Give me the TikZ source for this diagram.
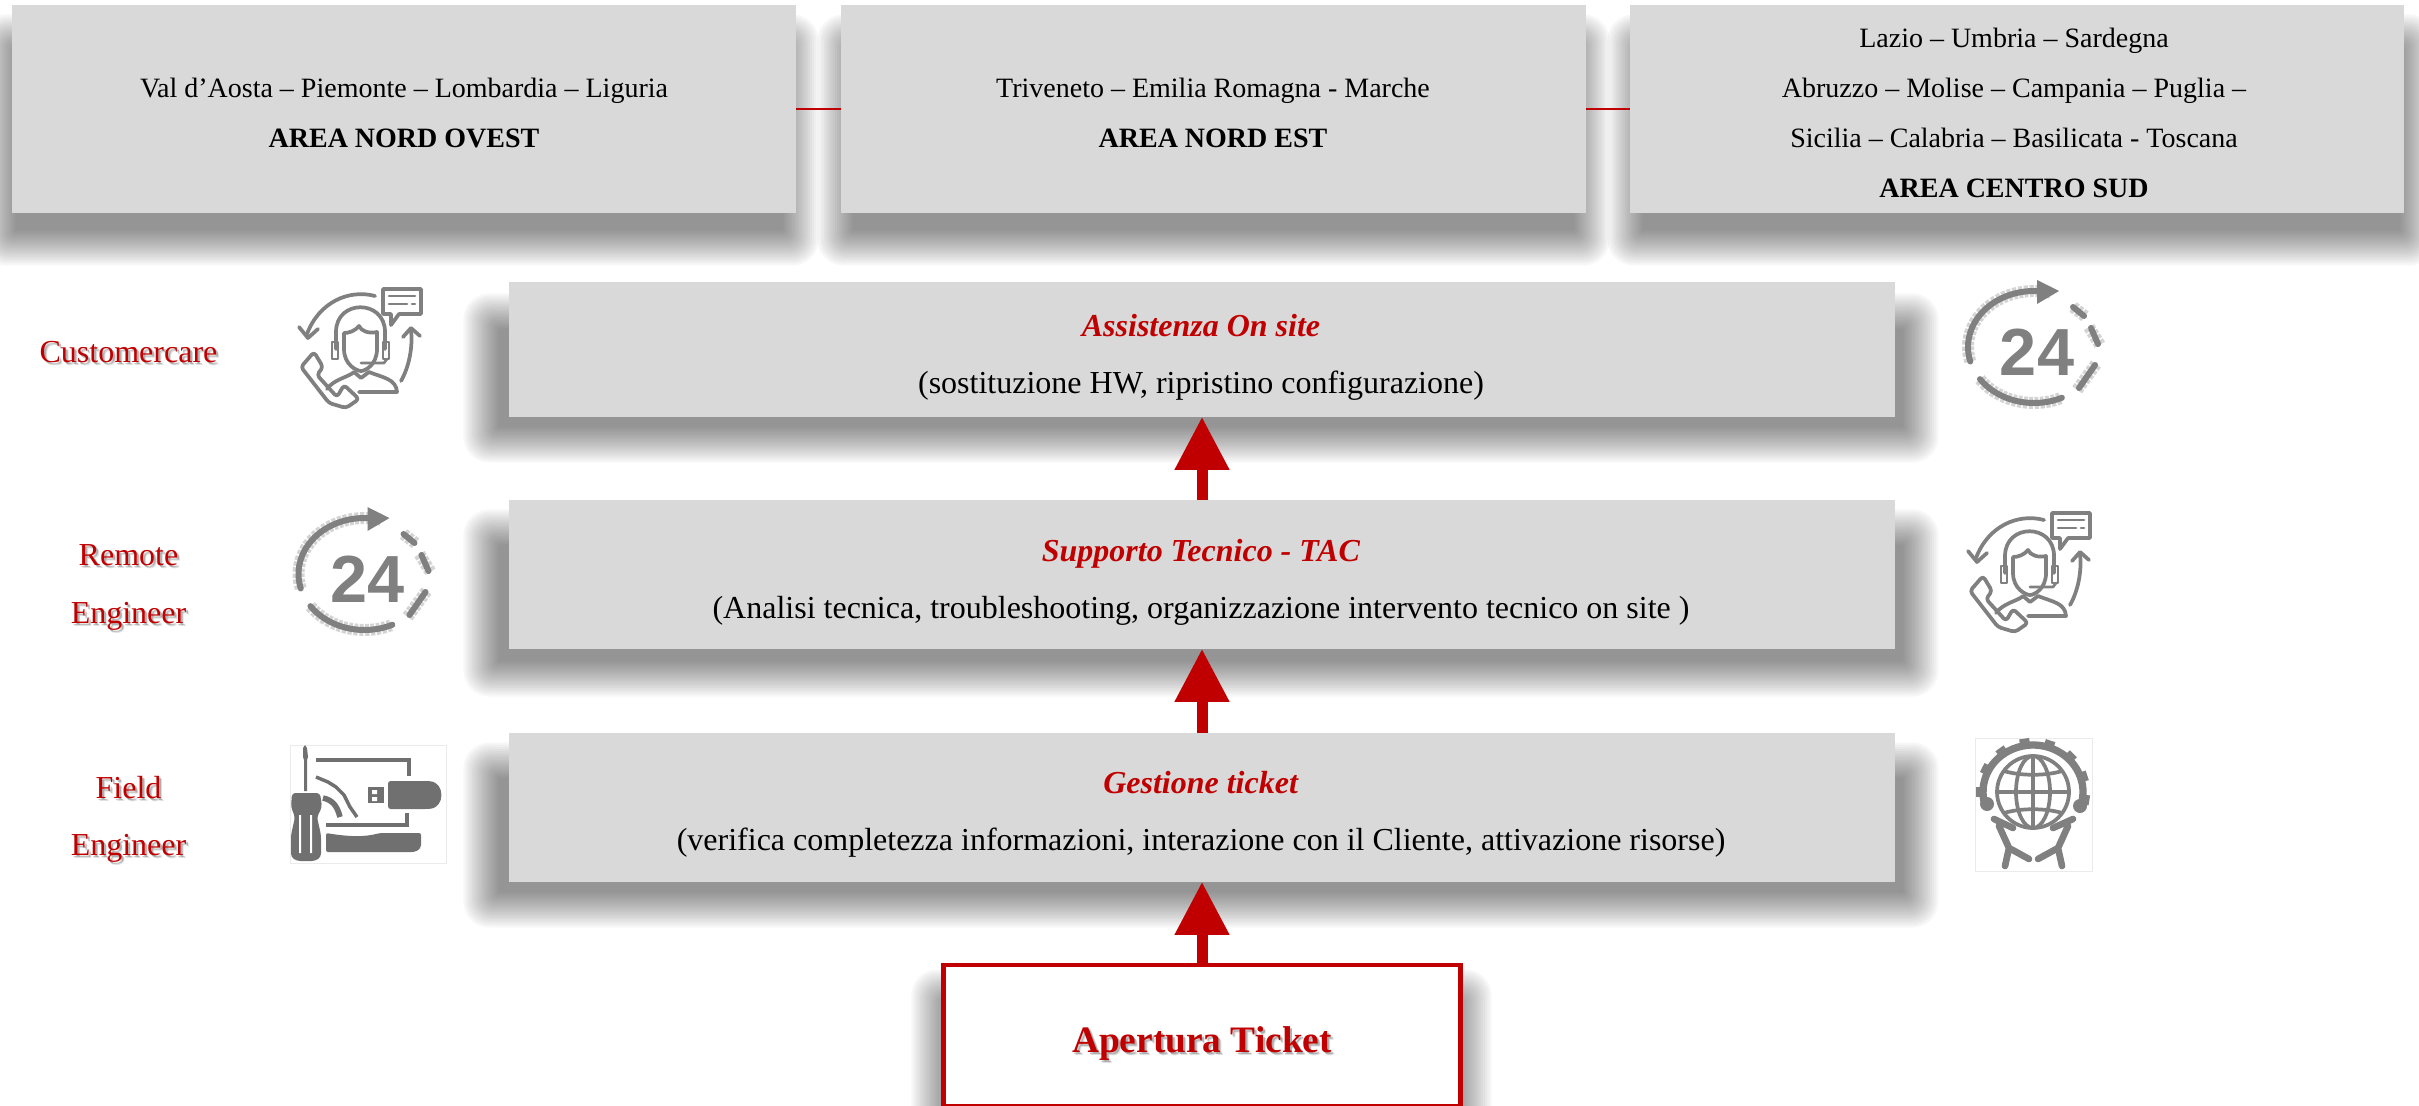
\documentclass[tikz,border=0pt]{standalone}
\usepackage{fontspec}
\setmainfont{Liberation Serif}
\setsansfont{Liberation Sans}
\usetikzlibrary{arrows.meta}
\definecolor{boxgray}{HTML}{D9D9D9}
\definecolor{redcol}{HTML}{C00000}
\definecolor{icongray}{HTML}{808080}
\definecolor{icondark}{HTML}{707070}
\definecolor{speck}{HTML}{D4D4D4}
\newcommand\softtext[1]{\makebox[0pt][l]{\pgfsetfillopacity{0.22}\kern1.5pt\raisebox{-1.5pt}{\color{black}#1}\pgfsetfillopacity{1}}\makebox[0pt][l]{\pgfsetfillopacity{0.12}\kern2.2pt\raisebox{-2.2pt}{\color{black}#1}\pgfsetfillopacity{1}}#1}
\newcommand\softshadow[4]{%
  \foreach \k in {-8,...,8}{%
    \pgfmathsetmacro\dd{\k*2.2}%
    \pgfmathsetmacro\rr{max(0.5,10+\k*1.2)}%
    \fill[black,fill opacity=0.0296,rounded corners=\rr pt] ({#1-\dd},{#2-\dd}) rectangle ({#3+\dd},{#4+\dd});
  }}
\tikzset{
  x=0.75pt,y=-0.75pt,
  topbox/.style={fill=boxgray,minimum height=155.25pt,inner sep=0pt,outer sep=0pt},
  bandbox/.style={fill=boxgray,minimum width=1039.5pt,inner sep=0pt,outer sep=0pt},
  toptext/.style={font=\fontsize{21}{37.5}\selectfont,align=center,inner sep=0pt,text=black},
  bandtext/.style={font=\fontsize{24}{43}\selectfont,align=center,inner sep=0pt,text=black},
  rolelabel/.style={font=\fontsize{24}{43}\selectfont,align=center,inner sep=0pt,text=redcol},
  openbox/.style={draw=redcol,line width=3.4pt,fill=white,minimum width=387.75pt,minimum height=105.75pt,inner sep=0pt,outer sep=0pt},
  flow/.style={draw=redcol,line width=8.25pt,-{Triangle[length=39.75pt,width=39pt]},shorten >=-0.1pt},
  link/.style={draw=redcol,line width=1.5pt},
  iconline/.style={draw=icongray,line width=2.8pt,line cap=round,line join=round},
  iconfine/.style={draw=icongray,line width=2pt,line cap=round,line join=round},
  speckline/.style={draw=speck,line width=9pt,dash pattern=on 3pt off 1.2pt},
  thickarc/.style={draw=icongray,line width=4.5pt,line cap=round},
  frameline/.style={draw=black!8,line width=0.7pt},
  agentpic/.pic={
    \draw[iconline] (76,9) .. controls (50,2) and (20,15) .. (8,47);
    \draw[iconline] (0,40) -- (9,51) -- (19,42);
    \draw[iconline] (102,94) .. controls (110,80) and (114,60) .. (112,43);
    \draw[iconline] (104,50) -- (112,41) -- (121,49);
    \draw[iconline] (84,2) -- (122,2) -- (122,27) -- (100,27) -- (92,38) -- (92,27) -- (84,27) -- cycle;
    \draw[iconfine] (90,9) -- (116,9) (90,17) -- (108,17) (113,17) -- (116,17);
    \draw[iconline] (37,62) -- (37,45) .. controls (37,12) and (86,12) .. (86,45) -- (86,62);
    \draw[iconline] (45,46) -- (45,62) .. controls (45,78) and (58,84) .. (62,84) .. controls (66,84) and (78,78) .. (78,62) -- (78,45) .. controls (70,47) and (62,44) .. (60,39) .. controls (56,44) and (50,46) .. (45,46);
    \draw[iconfine] (33,55) rectangle (39,72) (84,55) rectangle (90,72);
    \draw[iconfine] (88,72) -- (85,76) -- (62,76);
    \draw[iconline] (28,102) .. controls (35,92) and (50,90) .. (55,85) -- (62,91) -- (70,85) .. controls (85,91) and (97,92) .. (98,105) -- (60,105);
    \draw[iconline,rounded corners=2.5pt] (2,80) -- (15,65) -- (24,80) -- (18,88) -- (38,110) -- (45,98) -- (60,112) -- (47,121) -- (30,116) -- cycle;
  },
  daypic/.pic={
    \draw[speckline] plot[domain=165:285,samples=30] ({77+66*cos(\x)},{69+56*sin(\x)});
    \draw[speckline] plot[domain=145:65,samples=20] ({77+66*cos(\x)},{69+56*sin(\x)});
    \draw[speckline] (116,29) -- (129,39) (132,49) -- (143,67) (139,86) -- (120,112);
    \draw[thickarc] plot[domain=165:280,samples=30] ({77+66*cos(\x)},{69+56*sin(\x)});
    \fill[icongray] (80,2) -- (102,13) -- (80,26) -- cycle;
    \draw[thickarc] plot[domain=145:65,samples=20] ({77+66*cos(\x)},{69+56*sin(\x)});
    \draw[thickarc] (116,29) -- (127,38) (134,50) -- (141,66) (138,87) -- (122,110);
    \node[text=icongray,inner sep=0pt,font=\fontsize{50}{50}\sffamily\bfseries\selectfont] (num) at (80,74) {24};
  },
  toolpic/.pic={
    \draw[frameline] (0,0) rectangle (156,118);
    \fill[icondark] (13,3) -- (15,0) -- (17,3) -- (18,12) -- (17,15) -- (17,46) -- (14,46) -- (14,15) -- (13,12) -- cycle;
    \fill[icondark,rounded corners=2.5pt] (2,48) -- (30,48) -- (32,62) -- (27,72) -- (31,90) -- (31,112) -- (25,116) -- (7,116) -- (1,112) -- (1,90) -- (5,72) -- (1,62) -- cycle;
    \fill[white] (9,70) -- (11,70) -- (11,108) -- (9,108) -- cycle (20,70) -- (22,70) -- (22,108) -- (20,108) -- cycle;
    \draw[icondark,line width=3pt] (26,15) -- (119,15) -- (119,31);
    \draw[icondark,line width=2.6pt,line join=round] (26,32) -- (38,37) -- (46,42) -- (54,50) -- (60,62) -- (67,72);
    \draw[icondark,line width=4.2pt] (33,53) .. controls (42,55) and (47,60) .. (50,72);
    \fill[icondark,rounded corners=2pt] (98,36) -- (138,36) .. controls (155,38) and (155,62) .. (138,64) -- (98,64) -- cycle;
    \fill[icondark] (77.5,42) rectangle (93.5,58);
    \fill[white] (82,45) rectangle (87,49) (82,52) rectangle (87,56);
    \draw[icondark,line width=3pt] (36,80) -- (117,80) -- (117,68);
    \fill[icondark,rounded corners=1.5pt] (36,88) .. controls (60,92) and (75,92) .. (90,88) -- (131,88) -- (131,98) .. controls (131,105) and (125,107) .. (120,107) -- (36,107) -- cycle;
  },
  globepic/.pic={
    \draw[frameline] (0,0) rectangle (117,133);
    \draw[icongray,line width=5.5pt] plot[domain=168:372,samples=40] ({58+50*cos(\x)},{54+47*sin(\x)});
    \foreach \a in {180,207,234,261,288,315,342,369}{
      \draw[icongray,line width=7.5pt] ({58+47*cos(\a)},{54+44*sin(\a)}) -- ({58+57*cos(\a)},{54+54*sin(\a)});
    }
    \draw[iconline] (58,54) circle [x radius=36,y radius=36];
    \draw[iconline] (58,54) circle [x radius=17,y radius=36];
    \draw[iconline] (58,18) -- (58,90) (22,54) -- (94,54);
    \draw[iconline] (29,33) .. controls (45,38) and (71,38) .. (87,33);
    \draw[iconline] (29,75) .. controls (45,70) and (71,70) .. (87,75);
    \fill[icongray] (12,66) circle [radius=7] (105,68) circle [radius=7];
    \draw[icongray,line width=5pt,line cap=round,line join=round] (19,81) -- (38,90) (24,88) -- (34,110) -- (30,128) (34,110) -- (54,121);
    \draw[icongray,line width=5pt,line cap=round,line join=round] (98,81) -- (78,90) (93,88) -- (83,110) -- (87,128) (83,110) -- (63,121);
  }
}
\begin{document}
\begin{tikzpicture}
\useasboundingbox (0,0) rectangle (2419,1106);
% soft shadows
\softshadow{-2}{32}{801}{248}
\softshadow{835}{32}{1592}{248}
\softshadow{1625}{32}{2418}{248}
\softshadow{481}{311}{1921}{445}
\softshadow{481}{527}{1921}{679}
\softshadow{481}{760}{1921}{910}
\softshadow{929}{987}{1474}{1130}
% top boxes
\node[topbox,minimum width=588pt] (nordovest) at (404,109) {};
\node[topbox,minimum width=558.75pt] (nordest) at (1213.5,109) {};
\node[topbox,minimum width=580.5pt] (centrosud) at (2017,109) {};
\draw[link] (nordovest.east) -- (nordest.west);
\draw[link] (nordest.east) -- (centrosud.west);
\node[toptext] (tnordovest) at (404,112.5) {Val d’Aosta – Piemonte – Lombardia – Liguria\\\textbf{AREA NORD OVEST}};
\node[toptext] (tnordest) at (1213,112.5) {Triveneto – Emilia Romagna - Marche\\\textbf{AREA NORD EST}};
\node[toptext] (tcentrosud) at (2014,112.5) {Lazio – Umbria – Sardegna\\Abruzzo – Molise – Campania – Puglia –\\Sicilia – Calabria – Basilicata - Toscana\\\textbf{AREA CENTRO SUD}};
% bands
\node[bandbox,minimum height=101.25pt] (onsite) at (1202,349.5) {};
\node[bandbox,minimum height=111.75pt] (tac) at (1202,574.5) {};
\node[bandbox,minimum height=111.75pt] (ticket) at (1202,807.5) {};
\node[bandtext] (tonsite) at (1201,357.5) {\textcolor{redcol}{\textbf{\textit{Assistenza On site}}}\\(sostituzione HW, ripristino configurazione)};
\node[bandtext] (ttac) at (1201,582.5) {\textcolor{redcol}{\textbf{\textit{Supporto Tecnico - TAC}}}\\(Analisi tecnica, troubleshooting, organizzazione intervento tecnico on site )};
\node[bandtext] (tticket) at (1201,814) {\textcolor{redcol}{\textbf{\textit{Gestione ticket}}}\\(verifica completezza informazioni, interazione con il Cliente, attivazione risorse)};
% opening box
\node[openbox] (apertura) at (1202,1035.5) {};
\node[inner sep=0pt,text=redcol,font=\fontsize{28}{34}\bfseries\selectfont] (tapertura) at (1202,1045) {\softtext{Apertura Ticket}};
% arrows
\draw[flow] (apertura.north) -- (ticket.south);
\draw[flow] (ticket.north) -- (tac.south);
\draw[flow] (tac.north) -- (onsite.south);
% role labels
\node[rolelabel] (rcustomer) at (128.5,354) {\softtext{Customercare}};
\node[rolelabel] (rremote) at (128.5,589) {\softtext{Remote}\\\softtext{Engineer}};
\node[rolelabel] (rfield) at (128.5,821) {\softtext{Field}\\\softtext{Engineer}};
% icons
\pic (agentA) at (299,287) {agentpic};
\pic (agentB) at (1968,511) {agentpic};
\pic (dayA) at (1957,278) {daypic};
\pic (dayB) at (287.5,505) {daypic};
\pic (tool) at (290,745) {toolpic};
\pic (globe) at (1975,738) {globepic};
\end{tikzpicture}
\end{document}
